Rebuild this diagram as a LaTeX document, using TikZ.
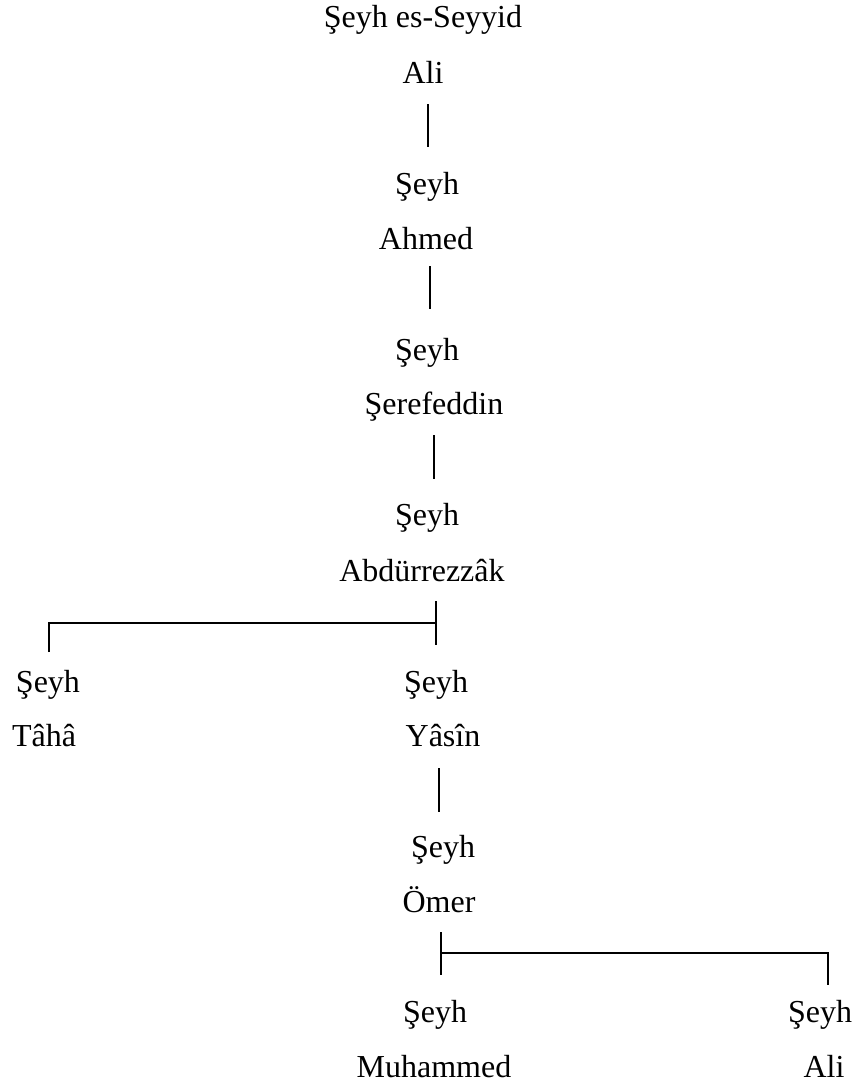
\documentclass[tikz,border=0pt]{standalone}
\usepackage{fontspec}
\setmainfont{Liberation Serif}
\begin{document}
\begin{tikzpicture}[x=1pt,y=-1pt,
  lbl/.style={inner sep=0pt,anchor=base,font=\fontsize{32}{38}\selectfont},
  conn/.style={line width=1.3pt,line cap=butt,line join=miter}]
\useasboundingbox[fill=white] (0,0) rectangle (863,1088);
% people
\node[lbl] (n1a) at (423,27) {Şeyh es-Seyyid};
\node[lbl] (n1b) at (423,83) {Ali};
\node[lbl] (n2a) at (427,194) {Şeyh};
\node[lbl] (n2b) at (426,249) {Ahmed};
\node[lbl] (n3a) at (427,360) {Şeyh};
\node[lbl] (n3b) at (434,414) {Şerefeddin};
\node[lbl] (n4a) at (427,525) {Şeyh};
\node[lbl] (n4b) at (422,581) {Abdürrezzâk};
\node[lbl] (n5a) at (48,692) {Şeyh};
\node[lbl] (n5b) at (44,746) {Tâhâ};
\node[lbl] (n6a) at (436,692) {Şeyh};
\node[lbl] (n6b) at (443,746) {Yâsîn};
\node[lbl] (n7a) at (443,857) {Şeyh};
\node[lbl] (n7b) at (439,912) {Ömer};
\node[lbl] (n8a) at (435,1022) {Şeyh};
\node[lbl] (n8b) at (434,1077) {Muhammed};
\node[lbl] (n9a) at (820,1022) {Şeyh};
\node[lbl] (n9b) at (824,1077) {Ali};
% connector end points
\coordinate (c1t) at (428,104); \coordinate (c1b) at (428,147);
\coordinate (c2t) at (430,266); \coordinate (c2b) at (430,309);
\coordinate (c3t) at (434,435); \coordinate (c3b) at (434,479);
\coordinate (c4t) at (436,601); \coordinate (c4b) at (436,645);
\coordinate (c4l) at (49,652);  \coordinate (c4m) at (436,623);
\coordinate (c5t) at (439,768); \coordinate (c5b) at (439,812);
\coordinate (c6t) at (441,932); \coordinate (c6b) at (441,975);
\coordinate (c6m) at (441,953); \coordinate (c6r) at (828,985);
% connectors
\draw[conn] (c1t) -- (c1b);
\draw[conn] (c2t) -- (c2b);
\draw[conn] (c3t) -- (c3b);
\draw[conn] (c4t) -- (c4b);
\draw[conn] (c4l) |- (c4m);
\draw[conn] (c5t) -- (c5b);
\draw[conn] (c6t) -- (c6b);
\draw[conn] (c6m) -| (c6r);
\end{tikzpicture}
\end{document}
